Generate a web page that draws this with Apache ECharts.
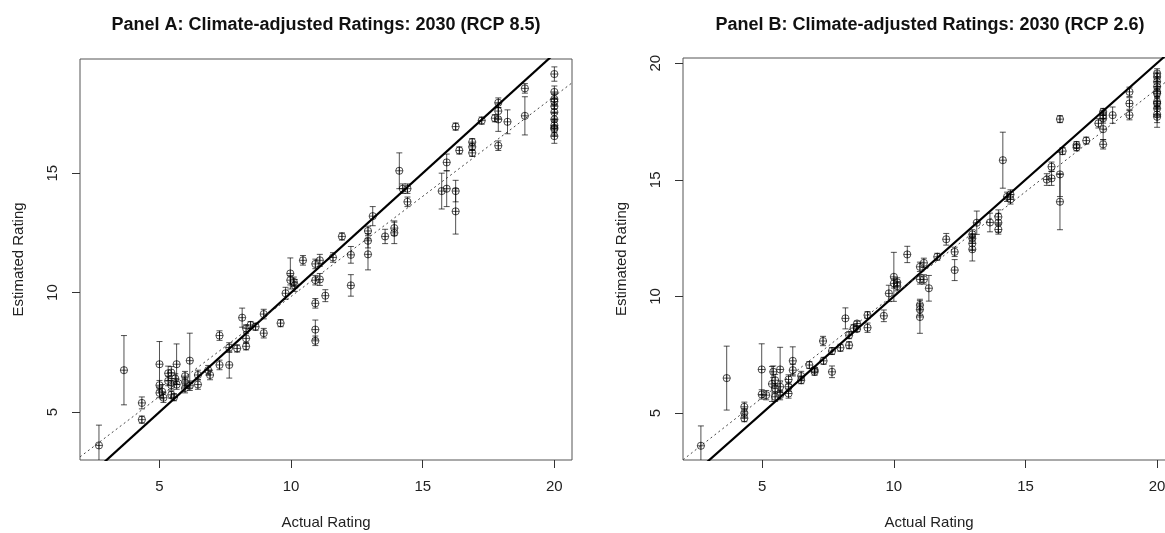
<!DOCTYPE html>
<html>
<head>
<meta charset="utf-8">
<script src="https://cdn.jsdelivr.net/npm/echarts/dist/echarts.min.js"></script>
<style>
html,body{margin:0;padding:0;background:#fff;}
#chart{width:1165px;height:533px;}
</style>
</head>
<body>
<div id="chart"></div>
<script>
// ---- Data ----
const titleA = 'Panel A: Climate-adjusted Ratings: 2030 (RCP 8.5)';
const titleB = 'Panel B: Climate-adjusted Ratings: 2030 (RCP 2.6)';
const xTickValues = [5, 10, 15, 20];
const yTickValuesA = [5, 10, 15];
const yTickValuesB = [5, 10, 15, 20];

const actualA = [2.7, 3.65, 4.33, 4.33, 5.0, 5.0, 5.0, 5.1, 5.15, 5.33, 5.45, 5.33, 5.45, 5.45, 5.55, 5.65, 5.65, 5.6,
  5.97, 5.97, 5.97, 6.15, 6.15, 6.46, 6.46, 6.85, 6.92, 7.28, 7.28, 7.65, 7.65, 7.95, 8.14, 8.29, 8.29, 8.29, 8.46, 8.65,
  8.96, 8.96, 9.6, 9.79, 9.97, 9.97, 10.1, 10.14, 10.45, 10.92, 11.09, 10.92, 11.09, 10.92, 11.3, 10.92, 10.92,
  11.59, 11.93, 12.27, 12.27, 12.92, 12.92, 12.92, 13.1, 13.57, 13.92, 13.92, 14.11, 14.24, 14.42, 14.42,
  15.72, 15.91, 15.91, 16.25, 16.25, 16.25, 16.39, 16.88, 16.88, 16.88, 17.24, 17.74, 17.87, 17.87, 17.87, 17.87,
  18.22, 18.88, 18.88, 20, 20, 20, 20, 20, 20, 20, 20, 20, 20, 20];
const estA = [3.6, 6.75, 5.38, 4.68, 7.0, 6.12, 5.8, 5.85, 5.6, 6.62, 6.65, 6.3, 6.12, 5.72, 5.62, 7.0, 6.15, 6.4,
  6.5, 6.25, 6.0, 7.15, 6.1, 6.55, 6.15, 6.75, 6.55, 8.2, 6.97, 7.7, 6.97, 7.66, 8.95, 8.5, 8.08, 7.75, 8.64, 8.57,
  9.1, 8.3, 8.72, 9.97, 10.8, 10.52, 10.45, 10.3, 11.35, 11.2, 11.35, 10.52, 10.55, 9.55, 9.87, 8.45, 7.98,
  11.47, 12.35, 11.58, 10.3, 12.58, 12.17, 11.6, 13.2, 12.35, 12.7, 12.5, 15.1, 14.35, 14.35, 13.8,
  14.25, 15.45, 14.35, 14.25, 13.4, 16.95, 15.95, 16.3, 16.1, 15.85, 17.2, 17.3, 17.95, 17.6, 17.25, 16.15,
  17.15, 18.55, 17.4, 19.15, 18.4, 18.1, 18.0, 17.8, 17.55, 17.25, 17.0, 16.9, 16.85, 16.55];
const seA = [0.85, 1.45, 0.25, 0.15, 0.95, 0.2, 0.2, 0.3, 0.2, 0.3, 0.25, 0.2, 0.2, 0.15, 0.15, 0.85, 0.2, 0.2,
  0.2, 0.2, 0.2, 1.15, 0.2, 0.2, 0.2, 0.2, 0.2, 0.2, 0.2, 0.2, 0.55, 0.15, 0.4, 0.15, 0.2, 0.15, 0.15, 0.15,
  0.2, 0.2, 0.15, 0.25, 0.65, 0.2, 0.2, 0.25, 0.2, 0.2, 0.25, 0.2, 0.25, 0.2, 0.25, 0.4, 0.2,
  0.2, 0.15, 0.35, 0.45, 0.2, 0.3, 0.65, 0.4, 0.3, 0.3, 0.45, 0.75, 0.2, 0.2, 0.2,
  0.75, 0.35, 0.75, 0.45, 0.95, 0.15, 0.15, 0.15, 0.15, 0.15, 0.15, 0.15, 0.2, 0.3, 0.5, 0.2,
  0.5, 0.2, 0.8, 0.3, 0.25, 0.25, 0.3, 0.3, 0.3, 0.3, 0.3, 0.3, 0.3, 0.3];

const actualB = [2.67, 3.65, 4.32, 4.32, 4.32, 4.98, 4.98, 5.15, 5.37, 5.42, 5.49, 5.49, 5.49, 5.68, 5.68, 5.68,
  6.0, 6.0, 6.0, 6.16, 6.16, 6.48, 6.48, 6.79, 6.99, 6.99, 7.31, 7.33, 7.65, 7.65, 7.97, 8.16, 8.3, 8.3, 8.47,
  8.6, 8.6, 9.0, 9.0, 9.62, 9.81, 10.0, 10.0, 10.13, 10.13, 10.51, 10.99, 11.14, 10.99, 11.14, 10.99, 10.99, 10.99,
  11.33, 11.65, 11.99, 12.31, 12.31, 12.98, 12.98, 12.98, 12.98, 13.15, 13.65, 13.97, 13.97, 13.97, 14.14,
  14.3, 14.43, 14.43, 15.81, 15.99, 15.99, 16.31, 16.31, 16.31, 16.41, 16.94, 16.94, 17.31, 17.77,
  17.95, 17.95, 17.95, 17.95, 17.95, 18.31, 18.95, 18.95, 18.95, 20, 20, 20, 20, 20, 20, 20, 20, 20, 20, 20];
const estB = [3.6, 6.5, 5.27, 5.0, 4.78, 6.87, 5.8, 5.77, 6.25, 6.77, 6.41, 6.06, 5.7, 6.87, 6.13, 5.77,
  6.44, 6.13, 5.84, 7.24, 6.84, 6.59, 6.41, 7.06, 6.77, 6.85, 8.09, 7.24, 7.66, 6.77, 7.8, 9.06, 8.34, 7.91, 8.64,
  8.84, 8.6, 9.2, 8.66, 9.17, 10.13, 10.84, 10.56, 10.6, 10.44, 11.8, 11.27, 11.44, 10.73, 10.73, 9.63, 9.44, 9.12,
  10.35, 11.7, 12.45, 11.91, 11.13, 12.66, 12.49, 12.27, 12.02, 13.16, 13.17, 13.41, 13.16, 12.87, 15.84,
  14.27, 14.37, 14.16, 15.01, 15.06, 15.56, 17.6, 15.23, 14.06, 16.23, 16.49, 16.39, 16.68, 17.42,
  17.91, 17.77, 17.63, 17.17, 16.52, 17.77, 18.77, 18.27, 17.77, 19.56, 19.41, 19.2, 18.99, 18.77, 18.7, 18.34, 18.27, 18.06, 17.8, 17.7];
const seB = [0.85, 1.37, 0.2, 0.2, 0.15, 1.1, 0.2, 0.2, 0.75, 0.25, 0.25, 0.2, 0.2, 0.95, 0.25, 0.2,
  0.2, 0.2, 0.2, 0.6, 0.25, 0.2, 0.15, 0.15, 0.15, 0.1, 0.2, 0.15, 0.15, 0.25, 0.15, 0.45, 0.15, 0.15, 0.15,
  0.1, 0.1, 0.15, 0.2, 0.25, 0.35, 1.05, 0.2, 0.2, 0.2, 0.35, 0.2, 0.2, 0.2, 0.2, 0.25, 0.25, 0.7,
  0.55, 0.15, 0.25, 0.2, 0.45, 0.2, 0.2, 0.3, 0.5, 0.5, 0.4, 0.3, 0.4, 0.2, 1.2,
  0.2, 0.2, 0.2, 0.25, 0.3, 0.2, 0.15, 0.95, 1.2, 0.15, 0.15, 0.15, 0.15, 0.2,
  0.15, 0.2, 0.2, 0.45, 0.2, 0.35, 0.2, 0.25, 0.2, 0.2, 0.2, 0.2, 0.2, 0.2, 0.2, 0.25, 0.25, 0.3, 0.35, 0.45];

// fitted regression lines: [intercept, slope]
const fitA = [1.46, 0.838];
const fitB = [1.243, 0.883];

// axis ranges (R style: data range extended by 4%)
const xRangeA = [1.98, 20.67], yRangeA = [2.99, 19.78];
const xRangeB = [1.99, 20.68], yRangeB = [2.99, 20.22];

// ---- Chart ----
const FONT = 'Liberation Sans, Arial, sans-serif';
const chart = echarts.init(document.getElementById('chart'));

function rows(xs, ys, es) { return xs.map((x, i) => [x, ys[i], es[i]]); }

function renderErr(params, api) {
  const x = api.value(0), y = api.value(1), e = api.value(2);
  const c = api.coord([x, y]);
  const lo = api.coord([x, y - e]);
  const hi = api.coord([x, y + e]);
  const r = 3.6, cap = 3;
  const st = { stroke: 'rgba(0,0,0,0.68)', lineWidth: 1, fill: null };
  const cs = params.coordSys;
  return {
    type: 'group',
    clipPath: { type: 'rect', shape: { x: cs.x, y: cs.y, width: cs.width, height: cs.height } },
    children: [
      { type: 'line', shape: { x1: c[0], y1: lo[1], x2: c[0], y2: hi[1] }, style: st },
      { type: 'line', shape: { x1: c[0] - cap, y1: lo[1], x2: c[0] + cap, y2: lo[1] }, style: st },
      { type: 'line', shape: { x1: c[0] - cap, y1: hi[1], x2: c[0] + cap, y2: hi[1] }, style: st },
      { type: 'circle', shape: { cx: c[0], cy: c[1], r: r }, style: { stroke: 'rgba(0,0,0,0.68)', lineWidth: 1, fill: 'none' } },
      { type: 'line', shape: { x1: c[0] - r, y1: c[1], x2: c[0] + r, y2: c[1] }, style: st },
      { type: 'line', shape: { x1: c[0], y1: c[1] - r, x2: c[0], y2: c[1] + r }, style: st }
    ]
  };
}

function xAxisCfg(idx, range) {
  return {
    type: 'value', gridIndex: idx, min: range[0], max: range[1],
    name: 'Actual Rating', nameLocation: 'middle', nameGap: 55,
    nameTextStyle: { fontFamily: FONT, fontSize: 15, color: '#222' },
    axisLine: { show: false },
    splitLine: { show: false },
    axisTick: { show: true, length: 8, customValues: xTickValues, lineStyle: { color: '#333', width: 1 } },
    axisLabel: { customValues: xTickValues, margin: 19, fontFamily: FONT, fontSize: 15, color: '#222' }
  };
}
function yAxisCfg(idx, range, ticks) {
  return {
    type: 'value', gridIndex: idx, min: range[0], max: range[1],
    name: 'Estimated Rating', nameLocation: 'middle', nameGap: 54, nameRotate: 90,
    nameTextStyle: { fontFamily: FONT, fontSize: 15, color: '#222' },
    axisLine: { show: false },
    splitLine: { show: false },
    axisTick: { show: true, length: 8, customValues: ticks, lineStyle: { color: '#333', width: 1 } },
    axisLabel: { customValues: ticks, rotate: 90, margin: 20, fontFamily: FONT, fontSize: 15, color: '#222' }
  };
}

function lineSeries(idx, pts, style) {
  return {
    type: 'line', xAxisIndex: idx, yAxisIndex: idx, data: pts, symbol: 'none',
    clip: true, silent: true, lineStyle: style, animation: false, z: 3
  };
}

const option = {
  animation: false,
  backgroundColor: '#ffffff',
  title: [
    { text: titleA, left: 321, top: 11, textAlign: 'center',
      textStyle: { fontFamily: FONT, fontSize: 18, fontWeight: 'bold', color: '#111' } },
    { text: titleB, left: 925, top: 11, textAlign: 'center',
      textStyle: { fontFamily: FONT, fontSize: 18, fontWeight: 'bold', color: '#111' } }
  ],
  grid: [
    { left: 80, top: 59, width: 492, height: 401, show: true, borderColor: '#555', borderWidth: 1, backgroundColor: 'transparent', containLabel: false, outerBoundsMode: 'none' },
    { left: 683, top: 58, width: 492, height: 402, show: true, borderColor: '#555', borderWidth: 1, backgroundColor: 'transparent', containLabel: false, outerBoundsMode: 'none' }
  ],
  xAxis: [xAxisCfg(0, xRangeA), xAxisCfg(1, xRangeB)],
  yAxis: [yAxisCfg(0, yRangeA, yTickValuesA), yAxisCfg(1, yRangeB, yTickValuesB)],
  series: [
    lineSeries(0, [[xRangeA[0], xRangeA[0]], [xRangeA[1], xRangeA[1]]], { color: '#000', width: 2.2, type: 'solid' }),
    lineSeries(0, [[xRangeA[0], fitA[0] + fitA[1] * xRangeA[0]], [xRangeA[1], fitA[0] + fitA[1] * xRangeA[1]]], { color: '#444', width: 1, type: [2, 3] }),
    lineSeries(1, [[xRangeB[0], xRangeB[0]], [xRangeB[1], xRangeB[1]]], { color: '#000', width: 2.2, type: 'solid' }),
    lineSeries(1, [[xRangeB[0], fitB[0] + fitB[1] * xRangeB[0]], [xRangeB[1], fitB[0] + fitB[1] * xRangeB[1]]], { color: '#444', width: 1, type: [2, 3] }),
    { type: 'custom', xAxisIndex: 0, yAxisIndex: 0, data: rows(actualA, estA, seA), renderItem: renderErr, silent: true, z: 4 },
    { type: 'custom', xAxisIndex: 1, yAxisIndex: 1, data: rows(actualB, estB, seB), renderItem: renderErr, silent: true, z: 4 }
  ]
};
chart.setOption(option);
</script>
</body>
</html>
